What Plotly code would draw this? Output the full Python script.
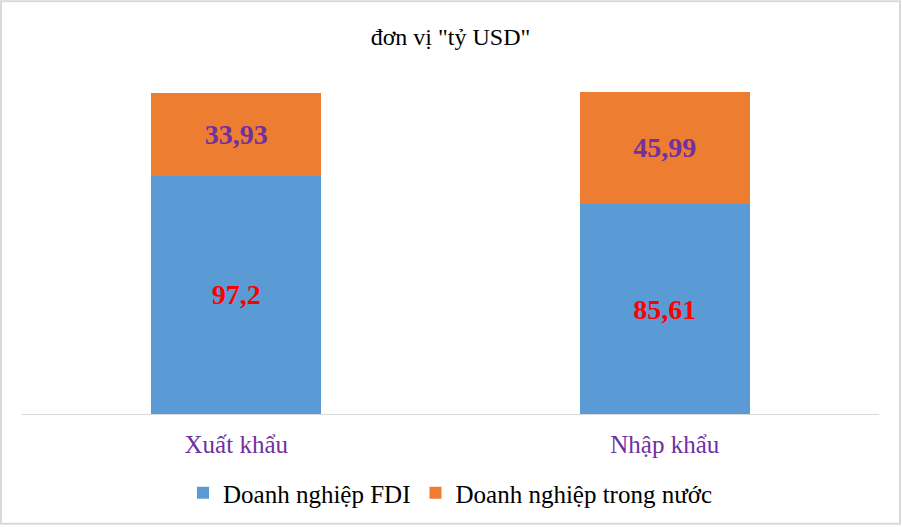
import plotly.graph_objects as go

categories = ["Xuất khẩu", "Nhập khẩu"]
fdi = [97.2, 85.61]
trong_nuoc = [33.93, 45.99]
series_names = ["Doanh nghiệp FDI", "Doanh nghiệp trong nước"]
title_text = 'đơn vị "tỷ USD"'


def fmt(v):
    return f"{v:g}".replace(".", ",")


FONT = "Liberation Serif"
W, H = 902, 527
ML, MR, MT, MB = 22, 23, 60, 112
PW, PH = W - ML - MR, H - MT - MB

fig = go.Figure()
fig.add_trace(go.Bar(
    x=categories, y=fdi, name=series_names[0],
    marker=dict(color="#5B9BD5", line=dict(width=0)),
    text=[fmt(v) for v in fdi], textposition="inside",
    insidetextanchor="middle", textangle=0,
    textfont=dict(family=FONT, size=28, color="#FF0000", weight="bold"),
))
fig.add_trace(go.Bar(
    x=categories, y=trong_nuoc, name=series_names[1],
    marker=dict(color="#ED7D31", line=dict(width=0)),
    text=[fmt(v) for v in trong_nuoc], textposition="inside",
    insidetextanchor="middle", textangle=0,
    textfont=dict(family=FONT, size=28, color="#7030A0", weight="bold"),
))


def px_x(px):
    return (px - ML) / PW


def px_y(py):
    return (H - MB - py) / PH


fig.update_layout(
    width=W, height=H,
    margin=dict(l=ML, r=MR, t=MT, b=MB),
    barmode="stack", bargap=0.603,
    paper_bgcolor="white", plot_bgcolor="white",
    font=dict(family=FONT, color="black"),
    title=dict(text=title_text, x=0.5, xanchor="center", xref="paper",
               y=1 - 37 / H, yanchor="middle",
               font=dict(family=FONT, size=24, color="black")),
    xaxis=dict(showline=True, linecolor="#D9D9D9", linewidth=1,
               ticks="", showgrid=False, ticklabelstandoff=8,
               tickfont=dict(family=FONT, size=25, color="#7030A0")),
    yaxis=dict(visible=False, range=[0, 144.5], showgrid=False),
    legend=dict(orientation="h", x=0.5, xanchor="center",
                y=px_y(493), yanchor="middle",
                font=dict(family=FONT, size=25, color="black"),
                itemwidth=30, traceorder="normal"),
    showlegend=True,
    shapes=[dict(type="rect", xref="paper", yref="paper",
                 x0=px_x(1), x1=px_x(900), y0=px_y(525), y1=px_y(1),
                 line=dict(color="#D9D9D9", width=2), fillcolor="rgba(0,0,0,0)",
                 layer="below")],
)

fig.write_html("out.html")
